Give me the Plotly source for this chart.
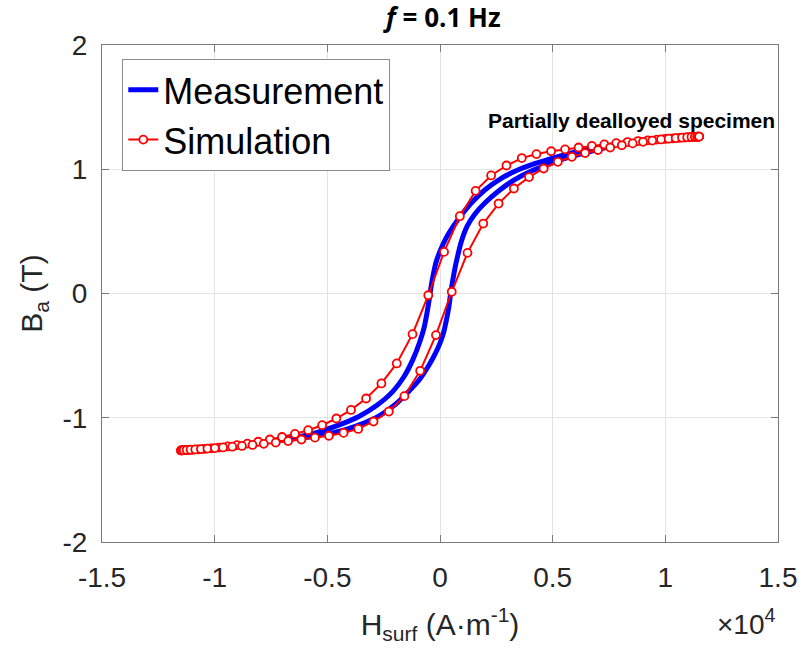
import plotly.graph_objects as go

# ---------------- data (H in units of 1e4 A/m, B in T) ----------------
# Measurement loop: descending branch then ascending branch
meas_H_desc = [0.78, 0.72, 0.65, 0.58, 0.50, 0.42, 0.34, 0.27, 0.20, 0.14, 0.09, 0.055,
               0.025, 0.0, -0.018, -0.03, -0.04, -0.048, -0.058, -0.07, -0.09, -0.12,
               -0.16, -0.21, -0.28, -0.36, -0.45, -0.54, -0.63, -0.71, -0.78]
meas_B_desc = [1.195, 1.18, 1.16, 1.13, 1.09, 1.045, 0.99, 0.925, 0.835, 0.73, 0.62, 0.53,
               0.44, 0.34, 0.25, 0.15, 0.05, -0.05, -0.16, -0.27, -0.39, -0.53,
               -0.67, -0.79, -0.90, -0.99, -1.06, -1.115, -1.155, -1.18, -1.195]
meas_H_asc = [-0.78, -0.72, -0.65, -0.58, -0.50, -0.42, -0.34, -0.27, -0.20, -0.14, -0.09,
              -0.05, -0.02, 0.0, 0.018, 0.03, 0.04, 0.047, 0.056, 0.066, 0.078, 0.095,
              0.12, 0.155, 0.20, 0.26, 0.33, 0.41, 0.49, 0.57, 0.64, 0.71, 0.78]
meas_B_asc = [-1.195, -1.185, -1.17, -1.155, -1.13, -1.095, -1.045, -0.985, -0.895, -0.79,
              -0.69, -0.58, -0.48, -0.40, -0.30, -0.20, -0.10, 0.0, 0.10, 0.20, 0.30, 0.42,
              0.54, 0.64, 0.73, 0.825, 0.915, 0.99, 1.046, 1.095, 1.13, 1.165, 1.195]

# Simulation loop: descending branch then ascending branch
sim_H_desc = [1.150, 1.145, 1.137, 1.124, 1.107, 1.086, 1.061, 1.032, 0.999, 0.963, 0.922,
              0.879, 0.832, 0.782, 0.729, 0.674, 0.615, 0.555, 0.493, 0.428, 0.363, 0.295,
              0.227, 0.158, 0.088, 0.018, -0.052, -0.122, -0.192, -0.260, -0.328, -0.395,
              -0.460, -0.523, -0.585, -0.644, -0.701, -0.755, -0.807, -0.855, -0.901,
              -0.942, -0.981, -1.015, -1.046, -1.074, -1.097, -1.116, -1.131, -1.141,
              -1.148, -1.150]
sim_B_desc = [1.263, 1.262, 1.261, 1.259, 1.257, 1.255, 1.252, 1.248, 1.244, 1.239, 1.233,
              1.227, 1.219, 1.210, 1.200, 1.188, 1.175, 1.160, 1.145, 1.122, 1.090, 1.030,
              0.950, 0.826, 0.622, 0.335, -0.014, -0.327, -0.563, -0.724, -0.845, -0.937,
              -1.006, -1.060, -1.100, -1.130, -1.155, -1.175, -1.193, -1.208, -1.221,
              -1.231, -1.240, -1.246, -1.251, -1.255, -1.258, -1.260, -1.261, -1.262,
              -1.263, -1.263]
sim_H_asc = [-1.145, -1.137, -1.124, -1.107, -1.086, -1.061, -1.032, -0.999, -0.963, -0.922,
             -0.879, -0.832, -0.782, -0.729, -0.674, -0.615, -0.555, -0.493, -0.428, -0.363,
             -0.295, -0.227, -0.158, -0.088, -0.018, 0.052, 0.122, 0.192, 0.260, 0.328,
             0.395, 0.460, 0.523, 0.585, 0.644, 0.701, 0.755, 0.807, 0.855, 0.901, 0.942,
             0.981, 1.015, 1.046, 1.074, 1.097, 1.116, 1.131, 1.141, 1.148, 1.150]
sim_B_asc = [-1.262, -1.261, -1.259, -1.257, -1.255, -1.252, -1.248, -1.244, -1.239, -1.233,
             -1.227, -1.219, -1.210, -1.200, -1.188, -1.175, -1.160, -1.145, -1.122, -1.090,
             -1.030, -0.950, -0.826, -0.622, -0.335, 0.014, 0.327, 0.563, 0.724, 0.845,
             0.937, 1.006, 1.060, 1.100, 1.130, 1.155, 1.175, 1.193, 1.208, 1.221, 1.231,
             1.240, 1.246, 1.251, 1.255, 1.258, 1.260, 1.261, 1.262, 1.263, 1.263]

x_tickvals = [-1.5, -1, -0.5, 0, 0.5, 1, 1.5]
x_ticktext = ["-1.5", "-1", "-0.5", "0", "0.5", "1", "1.5"]
y_tickvals = [-2, -1, 0, 1, 2]
y_ticktext = ["-2", "-1", "0", "1", "2"]

series_names = ["Measurement", "Simulation"]
title_text = "<b><i>f</i> = 0.1 Hz</b>"
note_text = "<b>Partially dealloyed specimen</b>"

# ---------------- figure ----------------
FONT = "Liberation Sans, Arial, sans-serif"
fig = go.Figure()
fig.add_trace(go.Scatter(
    x=meas_H_desc + meas_H_asc, y=meas_B_desc + meas_B_asc,
    mode="lines", name=series_names[0],
    line=dict(color="rgb(0,0,255)", width=5, shape="spline", smoothing=0.6)))
fig.add_trace(go.Scatter(
    x=sim_H_desc + sim_H_asc, y=sim_B_desc + sim_B_asc,
    mode="lines+markers", name=series_names[1],
    line=dict(color="rgb(255,0,0)", width=2),
    marker=dict(symbol="circle", size=8, color="white",
                line=dict(color="rgb(255,0,0)", width=1.8))))

axis_common = dict(
    showgrid=True, gridcolor="#e3e3e3", gridwidth=1, automargin=False,
    zeroline=False, showline=True, linecolor="#7a7a7a", linewidth=1,
    mirror="ticks", ticks="inside", ticklen=7, tickcolor="#7a7a7a",
    tickfont=dict(family=FONT, size=28, color="#262626"))

fig.update_xaxes(range=[-1.5, 1.5], tickvals=x_tickvals, ticktext=x_ticktext,
                 title=dict(text="H<sub>surf</sub> (A·m<sup>-1</sup>)",
                            font=dict(family=FONT, size=30, color="#262626"),
                            standoff=22),
                 ticklabelstandoff=10, **axis_common)
fig.update_yaxes(range=[-2, 2], tickvals=y_tickvals, ticktext=y_ticktext,
                 title=dict(text="B<sub>a</sub> (T)",
                            font=dict(family=FONT, size=30, color="#262626"),
                            standoff=10),
                 ticklabelstandoff=8, **axis_common)

fig.add_annotation(x=0.851, y=1.394, xref="x", yref="y", text=note_text,
                   showarrow=False, xanchor="center", yanchor="middle",
                   font=dict(family=FONT, size=21, color="black"))
fig.add_annotation(x=1.0, y=-0.16, xref="paper", yref="paper",
                   text="×10<sup>4</sup>", showarrow=False,
                   xanchor="right", yanchor="middle",
                   font=dict(family=FONT, size=28, color="#262626"))

fig.update_layout(
    width=803, height=655,
    margin=dict(l=102, r=25, t=45, b=113, autoexpand=False),
    paper_bgcolor="white", plot_bgcolor="white",
    title=dict(text=title_text, x=0.505, xanchor="center", y=0.972, yanchor="middle",
               xref="paper", yref="container", automargin=False,
               font=dict(family="Open Sans, sans-serif", size=26, color="black")),
    showlegend=True,
    legend=dict(x=0.03, y=0.972, xanchor="left", yanchor="top",
                bgcolor="white", bordercolor="#8c8c8c", borderwidth=1,
                font=dict(family=FONT, size=36, color="black"),
                itemwidth=30, tracegroupgap=0),
)

fig.write_html("out.html", config={"displayModeBar": False},
               post_script="document.body.style.margin='0';document.body.style.overflow='hidden';")
